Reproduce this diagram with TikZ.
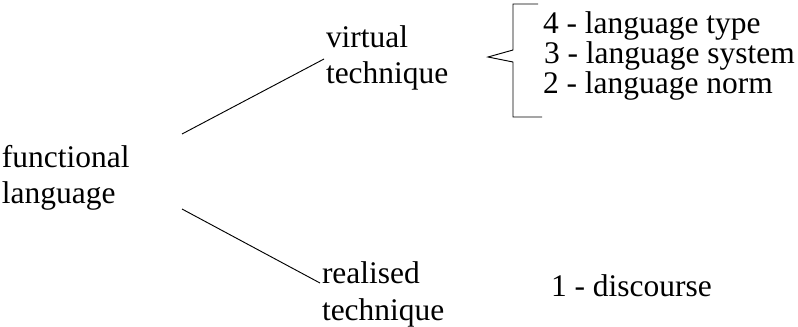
\documentclass[tikz,border=0pt]{standalone}
\usepackage{fontspec}
\setmainfont{Liberation Serif}
\begin{document}
\begin{tikzpicture}[x=0.75pt,y=-0.75pt,
  txt/.style={anchor=base west,inner sep=0pt,outer sep=0pt,font=\fontsize{23.6}{27}\selectfont},
  conn/.style={line width=0.7pt,black},
  brace/.style={line width=0.7pt,black}]
\useasboundingbox (0,0) rectangle (798,326);
% left node
\node[txt] (fl1) at (2,167) {functional};
\node[txt] (fl2) at (2,203) {language};
% upper node
\node[txt] (vt1) at (326,47.5) {virtual};
\node[txt] (vt2) at (326,83) {technique};
% lower node
\node[txt] (rt1) at (322,283.5) {realised};
\node[txt] (rt2) at (322,320) {technique};
% list
\node[txt] (l4) at (543,33) {4 - language type};
\node[txt] (l3) at (544,63.3) {3 - language system};
\node[txt] (l2) at (543,93.3) {2 - language norm};
\node[txt] (l1) at (551,296.7) {1 - discourse};
% connectors
\coordinate (fu) at (182,134);
\coordinate (fd) at (182,209);
\coordinate (vu) at (324,59);
\coordinate (rd) at (320,283);
\draw[conn] (fu) -- (vu);
\draw[conn] (fd) -- (rd);
% bracket
\coordinate (b1) at (538,4);
\coordinate (b2) at (513,4);
\coordinate (b3) at (513,50);
\coordinate (tip) at (488,57);
\coordinate (b4) at (513,62);
\coordinate (b5) at (513,117);
\coordinate (b6) at (542,117);
\draw[brace] (b1) -- (b2) -- (b3) -- (tip) -- (b4) -- (b5) -- (b6);
\end{tikzpicture}
\end{document}
